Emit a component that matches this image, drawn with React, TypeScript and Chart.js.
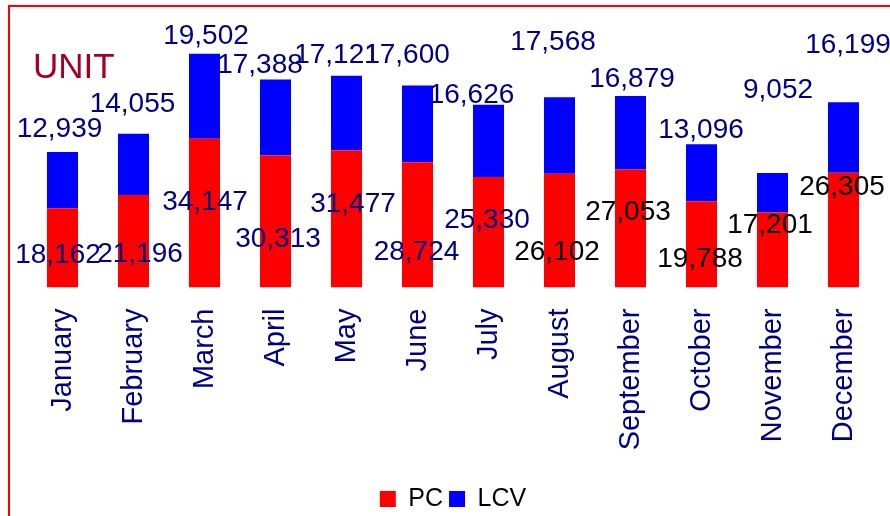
import React, { useEffect, useRef } from "react";
import { Chart, registerables } from "chart.js";

Chart.register(...registerables);

const FONT = "'Liberation Sans', Arial, sans-serif";

const months = [
  "January", "February", "March", "April", "May", "June",
  "July", "August", "September", "October", "November", "December",
];
const pcValues = [18162, 21196, 34147, 30313, 31477, 28724, 25330, 26102, 27053, 19788, 17201, 26305];
const lcvValues = [12939, 14055, 19502, 17388, 17121, 17600, 16626, 17568, 16879, 13096, 9052, 16199];
const yMax = 60000;

// label nudges in px (PC: from the middle of the red segment, LCV: from the top of the stack)
const pcNudgeX = [-4.5, 6.5, 0.5, 2.5, 6.5, -1, -1.5, -2.5, -2.5, -1.5, -2.5, -1.5];
const pcNudgeY = [5, 10.7, -13, 15.6, -17, 25, -14, 19.4, -18.5, 12.6, -27, -45];
const lcvNudgeX = [-3, -1, 1.5, -15.5, -9.5, -10.5, -17, -6.5, 1.5, -0.5, 5.5, 4.5];
const lcvNudgeY = [-25, -32, -19.6, -16.5, -22.6, -32.5, -11.6, -57, -19, -16, -85, -59];
const NAVY = "#000080";
const pcLabelColors = [NAVY, NAVY, NAVY, NAVY, NAVY, NAVY, NAVY, "#000", "#000", "#000", "#000", "#000"];

const fmt = (v: number) => v.toLocaleString("en-US");

const labelPlugin = {
  id: "barLabels",
  afterDatasetsDraw(chart: any) {
    const ctx = chart.ctx;
    const fs = 28;
    ctx.save();
    ctx.font = `${fs}px ${FONT}`;
    ctx.textAlign = "center";
    ctx.textBaseline = "alphabetic";
    const pcMeta = chart.getDatasetMeta(0);
    pcMeta.data.forEach((el: any, i: number) => {
      const p = el.getProps(["x", "y", "base"], true);
      const cy = (p.y + p.base) / 2 + pcNudgeY[i];
      ctx.fillStyle = pcLabelColors[i];
      ctx.fillText(fmt(pcValues[i]), p.x + pcNudgeX[i], cy + 0.358 * fs);
    });
    const lcvMeta = chart.getDatasetMeta(1);
    lcvMeta.data.forEach((el: any, i: number) => {
      const p = el.getProps(["x", "y", "base"], true);
      const cy = p.y + lcvNudgeY[i];
      ctx.fillStyle = NAVY;
      ctx.fillText(fmt(lcvValues[i]), p.x + lcvNudgeX[i], cy + 0.358 * fs);
    });
    ctx.restore();
  },
};

export default function App() {
  const ref = useRef<HTMLCanvasElement | null>(null);

  useEffect(() => {
    if (!ref.current) return;
    Chart.defaults.font.family = FONT;
    const chart = new Chart(ref.current, {
      type: "bar",
      data: {
        labels: months,
        datasets: [
          {
            label: "PC",
            data: pcValues,
            backgroundColor: "#ff0000",
            borderWidth: 0,
            barPercentage: 0.437,
            categoryPercentage: 1,
          },
          {
            label: "LCV",
            data: lcvValues,
            backgroundColor: "#0000ff",
            borderWidth: 0,
            barPercentage: 0.437,
            categoryPercentage: 1,
          },
        ],
      },
      options: {
        animation: false,
        responsive: false,
        devicePixelRatio: 1,
        layout: { padding: { top: 26, left: 27, right: 11, bottom: 2.5 } },
        scales: {
          x: {
            stacked: true,
            grid: { display: false, drawTicks: false },
            border: { display: false },
            ticks: {
              color: NAVY,
              font: { size: 29, family: FONT },
              minRotation: 90,
              maxRotation: 90,
              autoSkip: false,
              padding: 21,
            },
            afterFit: (s: any) => {
              s.height = 193;
              s.paddingLeft = 0;
              s.paddingRight = 0;
            },
          },
          y: {
            stacked: true,
            display: false,
            min: 0,
            max: yMax,
          },
        },
        plugins: {
          legend: {
            position: "bottom",
            labels: {
              color: "#000",
              font: { size: 25, family: FONT },
              boxWidth: 16,
              boxHeight: 16,
              padding: 6,
            },
          },
          tooltip: { enabled: false },
        },
      },
      plugins: [labelPlugin],
    } as any);
    return () => chart.destroy();
  }, []);

  return (
    <div
      style={{
        position: "fixed",
        left: 0,
        top: 0,
        width: 890,
        height: 516,
        overflow: "hidden",
        background: "#fff",
      }}
    >
      <canvas
        ref={ref}
        width={890}
        height={524}
        style={{ position: "absolute", left: 0, top: 0, width: 890, height: 524 }}
      />
      <div
        style={{
          position: "absolute",
          left: 8,
          top: 5,
          width: 1000,
          height: 1000,
          borderTop: "2px solid #ff0000",
          borderLeft: "2px solid #ff0000",
          boxSizing: "border-box",
          pointerEvents: "none",
        }}
      />
      <div
        style={{
          position: "absolute",
          left: 33,
          top: 48,
          fontFamily: FONT,
          fontSize: 35,
          lineHeight: "35px",
          color: "#a50021",
          whiteSpace: "nowrap",
        }}
      >
        UNIT
      </div>
    </div>
  );
}
